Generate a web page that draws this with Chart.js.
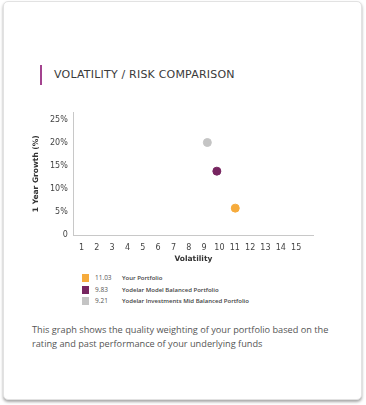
<!DOCTYPE html>
<html>
<head>
<meta charset="utf-8">
<script src="https://cdn.jsdelivr.net/npm/chart.js@4.4.1/dist/chart.umd.min.js"></script>
<style>
  html,body{margin:0;padding:0;background:#fff;width:366px;height:405px;overflow:hidden;font-family:"Open Sans",sans-serif;}
  .card{position:absolute;left:3px;top:1px;width:357px;height:397px;border:1px solid #e2e2e2;border-radius:5px;background:#fff;box-shadow:0 2px 3px rgba(0,0,0,0.35);}
  .title{position:absolute;left:40px;top:65px;height:20px;border-left:2px solid #a3438f;padding-left:12px;line-height:20px;color:#3a3a3a;letter-spacing:0.2px;font-family:"DejaVu Sans",sans-serif;font-size:11px;}
  .chartbox{position:absolute;left:20px;top:100px;width:310px;height:164px;}
  .legend{position:absolute;left:82px;top:274px;font-size:6px;color:#333;}
  .row{position:relative;height:11.5px;line-height:8px;}
  .sw{position:absolute;left:0;top:0;width:7px;height:8px;}
  .val{position:absolute;left:13px;top:0;color:#555;font-size:6.5px;}
  .nm{position:absolute;left:40px;top:0;font-weight:600;color:#444;white-space:nowrap;}
  .desc{position:absolute;left:32px;top:323px;width:320px;font-size:9.2px;line-height:14px;color:#555;}
</style>
</head>
<body>
<div class="card"></div>
<div class="title">VOLATILITY / RISK COMPARISON</div>
<div class="chartbox"><canvas id="c"></canvas></div>
<div class="legend" id="legend"></div>
<div class="desc">This graph shows the quality weighting of your portfolio based on the rating and past performance of your underlying funds</div>
<script>
const seriesNames = ['Your Portfolio', 'Yodelar Model Balanced Portfolio', 'Yodelar Investments Mid Balanced Portfolio'];
const volatility = [11.03, 9.83, 9.21];
const growth = [5.9, 13.9, 20.1];
const seriesColors = ['#f6ab3c', '#772560', '#c4c4c4'];
const xTicks = [1,2,3,4,5,6,7,8,9,10,11,12,13,14,15];
const yTicks = [0,5,10,15,20,25];

const datasets = seriesNames.map((n,i)=>({
  label: n,
  data: [{x: volatility[i], y: growth[i]}],
  backgroundColor: seriesColors[i],
  borderColor: seriesColors[i],
  pointRadius: 4,
  pointHoverRadius: 4
}));

const tickFont = {family: '"DejaVu Sans", sans-serif', size: 8};
new Chart(document.getElementById('c'), {
  type: 'scatter',
  data: {datasets},
  options: {
    responsive: true,
    maintainAspectRatio: false,
    animation: false,
    layout: {padding: {top: 12, right: 17, left: 8}},
    plugins: {legend: {display: false}, tooltip: {enabled: false}},
    scales: {
      x: {
        type: 'linear', min: 0.5, max: 16.1,
        afterBuildTicks: s => { s.ticks = xTicks.map(v => ({value: v})); },
        grid: {display: false, drawTicks: false},
        border: {color: '#c8c8c8', width: 1},
        ticks: {font: tickFont, color: '#444', padding: 8, maxRotation: 0, autoSkip: false},
        title: {display: true, text: 'Volatility', color: '#333', font: {family: '"DejaVu Sans", sans-serif', size: 7.5, weight: 'bold'}, padding: {top: -6, bottom: 0}}
      },
      y: {
        type: 'linear', min: 0, max: 26.7,
        afterBuildTicks: s => { s.ticks = yTicks.map(v => ({value: v})); },
        grid: {display: false, drawTicks: false},
        border: {color: '#c8c8c8', width: 1},
        ticks: {font: tickFont, color: '#444', padding: 6, callback: v => v === 0 ? '0' : v + '%'},
        title: {display: true, text: '1 Year Growth (%)', color: '#333', font: {family: '"DejaVu Sans", sans-serif', size: 7.5, weight: 'bold'}, padding: {bottom: 3}}
      }
    }
  }
});

const lg = document.getElementById('legend');
seriesNames.forEach((n,i)=>{
  const r = document.createElement('div'); r.className='row';
  r.innerHTML = '<span class="sw" style="background:'+seriesColors[i]+'"></span><span class="val">'+volatility[i].toFixed(2)+'</span><span class="nm">'+n+'</span>';
  lg.appendChild(r);
});
</script>
</body>
</html>
